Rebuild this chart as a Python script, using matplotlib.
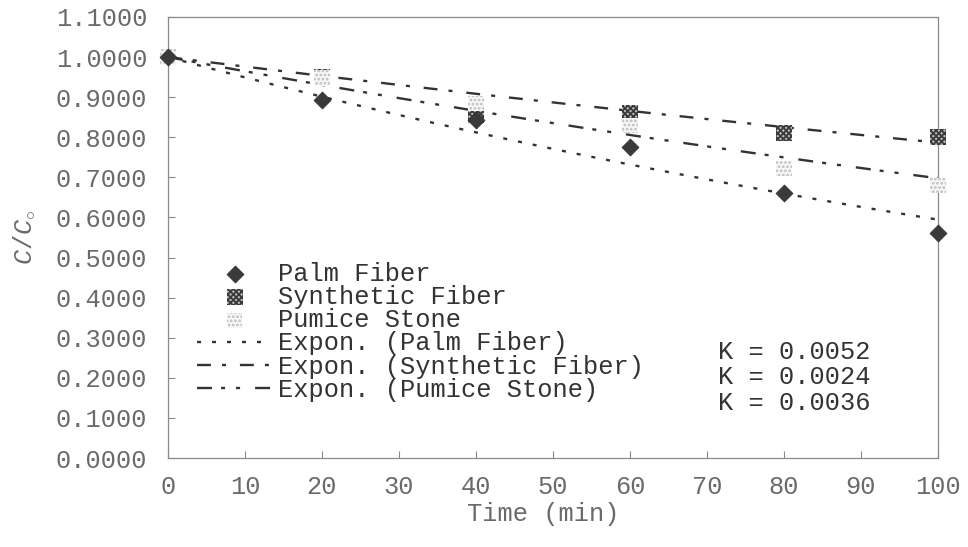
import matplotlib
matplotlib.use('Agg')
import matplotlib.pyplot as plt
import numpy as np

plt.rcParams['font.family'] = ['Liberation Mono', 'DejaVu Sans']
plt.rcParams['mathtext.fontset'] = 'custom'
plt.rcParams['mathtext.it'] = 'Liberation Mono:italic'
plt.rcParams['mathtext.rm'] = 'Liberation Mono'
plt.rcParams['lines.scale_dashes'] = False
plt.rcParams['hatch.linewidth'] = 1.3

# Data
time = [0, 20, 40, 60, 80, 100]
palm = [1.0, 0.893, 0.843, 0.776, 0.661, 0.561]
synthetic = [1.0, 0.950, 0.855, 0.860, 0.810, 0.800]
pumice = [1.0, 0.948, 0.885, 0.830, 0.723, 0.680]
k_values = [0.0052, 0.0024, 0.0036]
series_names = ['Palm Fiber', 'Synthetic Fiber', 'Pumice Stone']

fig = plt.figure(figsize=(9.68, 5.47), dpi=100)
ax = fig.add_axes([168/968, 89/547, 770/968, 441/547])

ink = '#333333'
grey = '#6a6a6a'
fs = 18.3

# exponential trendlines y = exp(-K t)
t_fit = np.linspace(0, 100, 200)
dash_styles = [(0, (2.9, 7.9)),
               (0, (10, 8, 2.9, 10)),
               (0, (10.8, 6.5, 2.9, 7.9, 2.9, 10.8))]
fit_lines = []
for k, ls in zip(k_values, dash_styles):
    ln, = ax.plot(t_fit, np.exp(-k * t_fit), color=ink, lw=1.7, linestyle=ls, zorder=2)
    fit_lines.append(ln)

# markers
s_palm = ax.scatter(time, palm, marker='D', s=75, facecolor='#3a3a3a',
                    edgecolor='#2a2a2a', linewidths=0.5, zorder=4, clip_on=False)
s_syn = ax.scatter(time, synthetic, marker='s', s=130, facecolor='#bdbdbd',
                   edgecolor='#3a3a3a', hatch='xxxxxx', linewidths=0.0, zorder=3, clip_on=False)
s_pum = ax.scatter(time, pumice, marker='s', s=120, facecolor='#f7f7f7',
                   edgecolor='#bdbdbd', hatch='....', linewidths=0.0, zorder=3, clip_on=False)

ax.set_xlim(0, 100)
ax.set_ylim(0, 1.1)
ax.set_xticks(np.arange(0, 101, 10))
yt = np.arange(0, 1.101, 0.1)
ax.set_yticks(yt)
ax.set_yticklabels([f'{v:.4f}' for v in yt])

ax.tick_params(axis='both', direction='in', length=5, width=0.8, color='#888888',
               labelsize=fs, labelcolor=grey)
ax.tick_params(axis='y', pad=15)
ax.tick_params(axis='x', pad=12)
for sp in ax.spines.values():
    sp.set_color('#8a8a8a')
    sp.set_linewidth(0.9)

ax.set_xlabel('Time (min)', fontsize=fs, color=grey)
ax.xaxis.set_label_coords(0.487, -0.1)
ax.set_ylabel(r'$C/C_{\circ}$', fontsize=fs, color=grey)
ax.yaxis.set_label_coords(-0.172, 0.5)

# legend
handles = [s_palm, s_syn, s_pum] + fit_lines
labels = series_names + [f'Expon. ({n})' for n in series_names]
leg = ax.legend(handles, labels, loc='upper left', bbox_to_anchor=(0.038, 0.445),
                frameon=False, fontsize=fs, handlelength=2.95, handletextpad=0.22,
                labelspacing=-0.03, borderpad=0, borderaxespad=0, scatterpoints=1)
for txt in leg.get_texts():
    txt.set_color(ink)

# rate constants
k_text = '\n'.join(f'K = {k:.4f}' for k in k_values)
ax.text((718 - 168) / 770, (458 - 340) / 441, k_text, transform=ax.transAxes,
        fontsize=fs, color=ink, ha='left', va='top', linespacing=1.07)

fig.savefig('out.png', dpi=100)
